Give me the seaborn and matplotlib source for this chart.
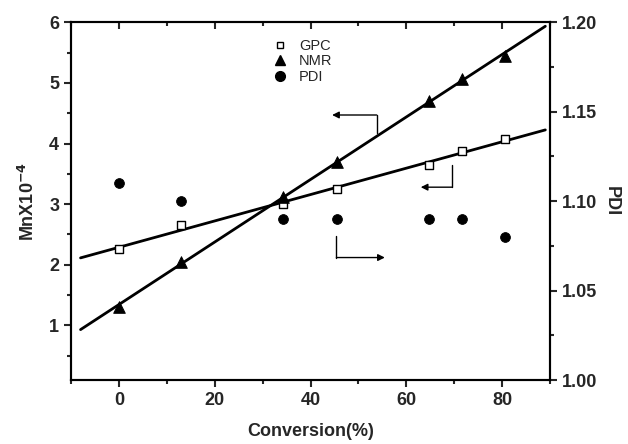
import numpy as np
import pandas as pd
import matplotlib.pyplot as plt
import seaborn as sns
from matplotlib.ticker import MultipleLocator
from matplotlib.lines import Line2D

# conversion (%) and the three measured series
conversion = [0, 13, 34.2, 45.6, 64.8, 71.7, 80.6]
mn_gpc = [2.26, 2.65, 3.00, 3.25, 3.65, 3.88, 4.07]
mn_nmr = [1.30, 2.05, 3.12, 3.70, 4.70, 5.07, 5.45]
pdi = [1.11, 1.10, 1.09, 1.09, 1.09, 1.09, 1.08]

fit_range = [-8, 89]

sns.set_style("ticks")
plt.rcParams['font.family'] = ['Liberation Sans', 'DejaVu Sans']

df = pd.DataFrame({"conv": conversion, "gpc": mn_gpc, "nmr": mn_nmr, "pdi": pdi})

fig = plt.figure(figsize=(6.28, 4.44), dpi=100)
ax = fig.add_axes([0.113, 0.144, 0.763, 0.806])
ax2 = ax.twinx()

# linear fits through GPC and NMR points
xfit = np.array(fit_range, dtype=float)
for col in ["gpc", "nmr"]:
    k, b = np.polyfit(df["conv"], df[col], 1)
    sns.lineplot(x=xfit, y=k * xfit + b, ax=ax, color="black", lw=2, zorder=2)

sns.scatterplot(data=df, x="conv", y="gpc", ax=ax, marker="s", s=40,
                facecolor="white", edgecolor="black", linewidth=1, zorder=3)
sns.scatterplot(data=df, x="conv", y="nmr", ax=ax, marker="^", s=70,
                color="black", edgecolor="black", zorder=3)
sns.scatterplot(data=df, x="conv", y="pdi", ax=ax2, marker="o", s=50,
                color="black", edgecolor="black", zorder=3)

# bracket arrows pointing to the relevant axis
def bracket(x0, y0, y1, x1):
    ax.plot([x0, x0], [y0, y1], color="black", lw=1)
    ax.annotate("", xy=(x1, y1), xytext=(x0, y1),
                arrowprops=dict(arrowstyle="-|>", color="black", lw=1,
                                mutation_scale=10, shrinkA=0, shrinkB=0))

bracket(53.8, 4.18, 4.47, 44.5)
bracket(69.6, 3.65, 3.28, 63.0)
bracket(45.4, 2.48, 2.12, 55.5)

ax.set_xlim(-10, 90)
ax.set_ylim(0.1, 6)
ax2.set_ylim(1.0, 1.2)

ax.xaxis.set_major_locator(MultipleLocator(20))
ax.xaxis.set_minor_locator(MultipleLocator(10))
ax.yaxis.set_major_locator(MultipleLocator(1))
ax.yaxis.set_minor_locator(MultipleLocator(0.5))
ax2.yaxis.set_major_locator(MultipleLocator(0.05))
ax2.yaxis.set_minor_locator(MultipleLocator(0.025))
ax2.yaxis.set_major_formatter(plt.FormatStrFormatter("%.2f"))

for a in (ax, ax2):
    for sp in a.spines.values():
        sp.set_visible(True)
        sp.set_linewidth(1.5)
        sp.set_color("black")

ax.tick_params(which="major", direction="out", length=5, width=1.5, labelsize=13)
ax.tick_params(which="minor", direction="out", length=3, width=1.5)
ax.tick_params(axis="x", which="both", top=True, labeltop=False)
ax2.tick_params(which="major", direction="out", length=5, width=1.5, labelsize=13)
ax2.tick_params(which="minor", direction="out", length=3, width=1.5)
for lbl in ax.get_xticklabels() + ax.get_yticklabels() + ax2.get_yticklabels():
    lbl.set_fontweight("bold")
# top ticks point inward, like the original
for t in ax.xaxis.get_major_ticks() + ax.xaxis.get_minor_ticks():
    t.tick2line.set_marker(3)

ax.set_xlabel("Conversion(%)", fontsize=13, fontweight="bold", labelpad=10)
ax.set_ylabel(r"MnX10$^{\mathbf{-4}}$", fontsize=13, fontweight="bold", labelpad=8)
ax2.set_ylabel("PDI", fontsize=13, fontweight="bold", rotation=270, labelpad=16)

handles = [
    Line2D([], [], ls="", marker="s", ms=5, mfc="white", mec="black", mew=1),
    Line2D([], [], ls="", marker="^", ms=7, color="black"),
    Line2D([], [], ls="", marker="o", ms=7, color="black"),
]
ax.legend(handles, ["GPC", "NMR", "PDI"], loc="upper left",
          bbox_to_anchor=(0.385, 0.99), frameon=False, fontsize=10.5,
          handletextpad=0.6, labelspacing=0.1, handlelength=1.5)

fig.savefig("out.png", dpi=100)
